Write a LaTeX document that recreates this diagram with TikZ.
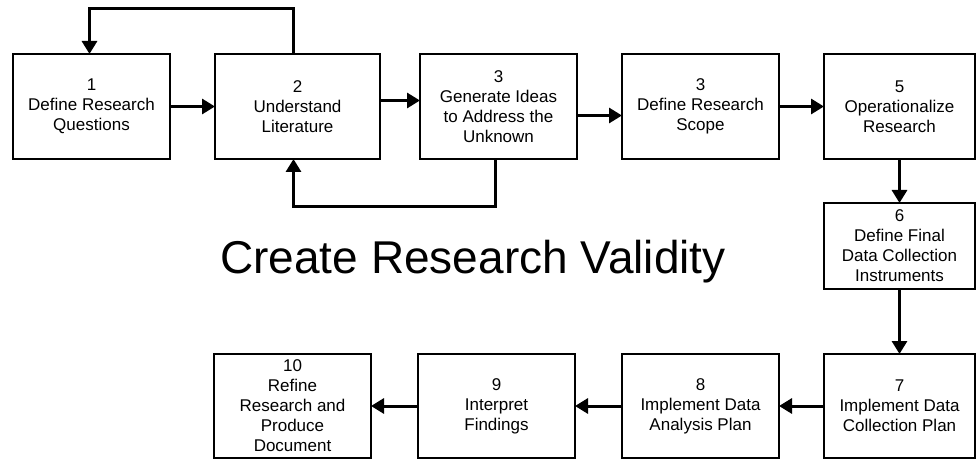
\documentclass[tikz,border=0pt]{standalone}
\usepackage{fontspec}
\setmainfont{Liberation Sans}
\usetikzlibrary{positioning,arrows.meta}

\begin{document}
\begin{tikzpicture}[x=1pt,y=1pt,
box/.style={draw,line width=2.8pt,outer sep=0pt,minimum width=157pt,minimum height=105pt,
  align=center,inner sep=2pt,font=\fontsize{17}{20}\selectfont},
lowbox/.style={box,minimum height=104pt},
arr/.style={line width=3pt,-{Triangle[length=13pt,width=15pt]}}]
\useasboundingbox (0,0) rectangle (977,461);
\node[box] (s1) at (91.5,354.5) {1\\Define Research\\Questions};
\node[box,minimum width=165pt,right=45pt of s1] (s2) {2\\Understand\\Literature};
\node[box,right=40pt of s2] (s3) {3\\Generate Ideas\\to Address the\\Unknown};
\node[box,right=45pt of s3] (s4) {3\\Define Research\\Scope};
\node[box,minimum width=151pt,right=45pt of s4] (s5) {5\\Operationalize\\Research};
\node[box,minimum width=151pt,minimum height=86pt,below=44pt of s5] (s6) {6\\Define Final\\Data Collection\\Instruments};
\node[lowbox,minimum width=151pt,below=65pt of s6] (s7) {7\\Implement Data\\Collection Plan};
\node[lowbox,left=45pt of s7] (s8) {8\\Implement Data\\Analysis Plan};
\node[lowbox,left=47pt of s8] (s9) {9\\Interpret\\Findings};
\node[lowbox,left=47pt of s9] (s10) {10\\Refine\\Research and\\Produce\\Document};
\node[font=\fontsize{46}{50}\selectfont] (title) at (473,199) {Create Research Validity};
% first row
\draw[arr] (s1) -- (s2);
\draw[arr] ([yshift=6pt]s2.east) -- ([yshift=6pt]s3.west);
\draw[arr] ([yshift=-9pt]s3.east) -- ([yshift=-9pt]s4.west);
\draw[arr] (s4) -- (s5);
% feedback loops
\draw[arr] ([xshift=-4pt]s2.north) -- ++(0,45) -| ([xshift=-2pt]s1.north);
\draw[arr] ([xshift=-3pt]s3.south) -- ++(0,-48) -| ([xshift=-4pt]s2.south);
% down the right side
\draw[arr] (s5) -- (s6);
\draw[arr] (s6) -- (s7);
% last row
\draw[arr] (s7) -- (s8);
\draw[arr] (s8) -- (s9);
\draw[arr] (s9) -- (s10);
\end{tikzpicture}
\end{document}
